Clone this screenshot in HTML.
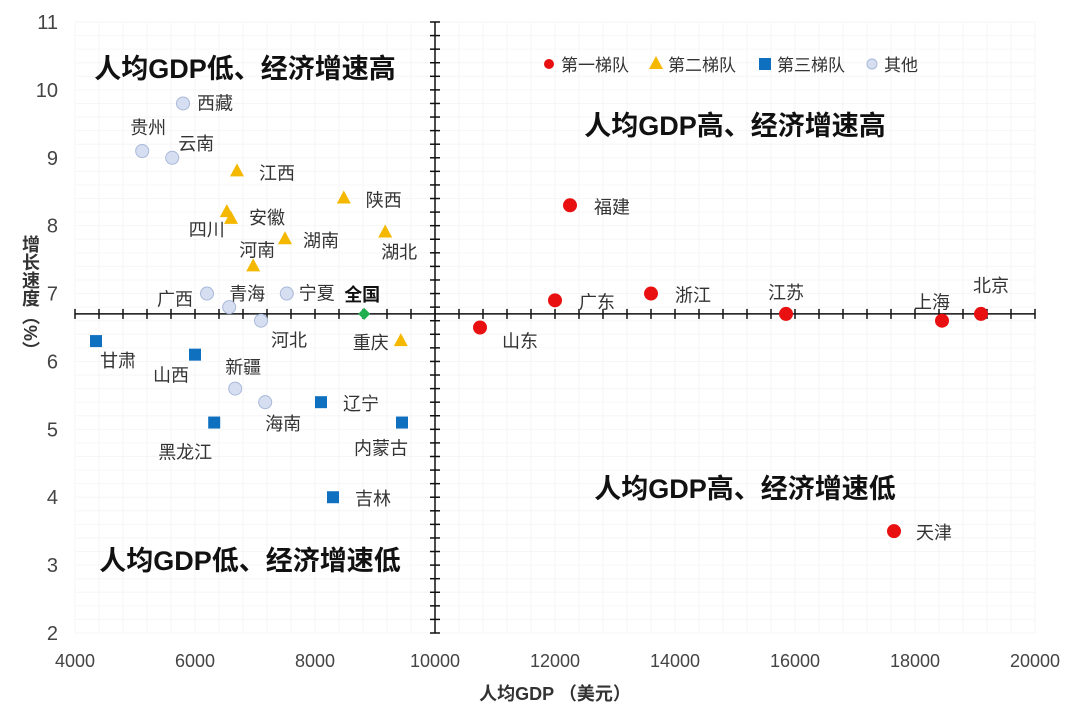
<!DOCTYPE html>
<html><head><meta charset="utf-8"><style>
body{margin:0;background:#fff;}
svg text{font-family:"Liberation Sans","Noto Sans CJK SC",sans-serif;}
</style></head><body>
<svg id="chart" width="1080" height="715" xmlns="http://www.w3.org/2000/svg"></svg>
<script>
const tier1Names=["福建","广东","浙江","江苏","上海","北京","山东","天津"];
const tier1X=[12250,12000,13600,15850,18450,19100,10750,17650];
const tier1Y=[8.3,6.9,7.0,6.7,6.6,6.7,6.5,3.5];
const tier2Names=["江西","陕西","四川","安徽","湖南","湖北","河南","重庆"];
const tier2X=[6700,8480,6530,6600,7500,9170,6970,9430];
const tier2Y=[8.8,8.4,8.2,8.1,7.8,7.9,7.4,6.3];
const tier3Names=["甘肃","山西","辽宁","内蒙古","黑龙江","吉林"];
const tier3X=[4350,6000,8100,9450,6320,8300];
const tier3Y=[6.3,6.1,5.4,5.1,5.1,4.0];
const otherNames=["西藏","贵州","云南","广西","青海","宁夏","河北","新疆","海南"];
const otherX=[5800,5120,5620,6200,6570,7530,7100,6670,7170];
const otherY=[9.8,9.1,9.0,7.0,6.8,7.0,6.6,5.6,5.4];
const nationX=[8820], nationY=[6.7];
const xTicks=[4000,6000,8000,10000,12000,14000,16000,18000,20000];
const yTicks=[2,3,4,5,6,7,8,9,10,11];
const crossX=10000, crossY=6.7;

const NS="http://www.w3.org/2000/svg";
const svg=document.getElementById('chart');
const X0=75,X1=1035,Y0=633,Y1=22;
const sx=v=>X0+(v-4000)/16000*(X1-X0);
const sy=v=>Y0-(v-2)/9*(Y0-Y1);
function el(t,a,p){const e=document.createElementNS(NS,t);for(const k in a)e.setAttribute(k,a[k]);(p||svg).appendChild(e);return e;}
function txt(x,y,s,o){const e=el('text',Object.assign({x:x,y:y,'font-size':18,fill:'#333'},o||{}));e.textContent=s;return e;}
const g=el('g',{});


for(let v=4000;v<=20000;v+=400)el('line',{x1:sx(v),x2:sx(v),y1:Y1,y2:Y0,stroke:'#f6f6f6'},g);
for(let v=2;v<=11.001;v+=0.2)el('line',{x1:X0,x2:X1,y1:sy(v),y2:sy(v),stroke:'#f6f6f6'},g);
xTicks.forEach(v=>{const t=txt(sx(v),667,String(v),{'text-anchor':'middle','font-size':18,fill:'#444'});});
yTicks.forEach(v=>{const t=txt(58,sy(v)+7,String(v),{'text-anchor':'end','font-size':20,fill:'#444'});});
const ax=el('g',{stroke:'#111','stroke-width':1.5});


el('line',{x1:sx(crossX),x2:sx(crossX),y1:Y1,y2:Y0},ax);
el('line',{x1:X0,x2:X1,y1:sy(crossY),y2:sy(crossY)},ax);
for(let v=4000;v<=20000;v+=400)el('line',{x1:sx(v),x2:sx(v),y1:sy(crossY)-5,y2:sy(crossY)+5},ax);
for(let v=2;v<=11.001;v+=0.2)el('line',{x1:sx(crossX)-5,x2:sx(crossX)+5,y1:sy(v),y2:sy(v)},ax);
[["人均GDP低、经济增速高",245,78],["人均GDP高、经济增速高",735,135],["人均GDP高、经济增速低",745,498],["人均GDP低、经济增速低",250,570]].forEach(q=>{const t=txt(q[1],q[2],q[0],{'text-anchor':'middle','font-size':27,'font-weight':'bold',fill:'#111'});});
let t=txt(555,700,"人均GDP （美元）",{'text-anchor':'middle','font-size':18,'font-weight':'bold',fill:'#333'});

t=txt(30,235,"增长速度（%）",{'font-size':18,'font-weight':'bold',fill:'#333',style:'writing-mode:vertical-rl'});

function marker(kind,x,y){
  let m;
  if(kind==1)m=el('circle',{cx:x,cy:y,r:7,fill:'#e81010'});
  else if(kind==2)m=el('polygon',{points:`${x},${y-8} ${x+7},${y+5} ${x-7},${y+5}`,fill:'#f5b800'});
  else if(kind==3)m=el('rect',{x:x-6,y:y-6,width:12,height:12,fill:'#1070c0'});
  else if(kind==4)m=el('circle',{cx:x,cy:y,r:6.5,fill:'#d6dff2',stroke:'#a8b8d8','stroke-width':1});
  else m=el('polygon',{points:`${x},${y-6} ${x+6},${y} ${x},${y+6} ${x-6},${y}`,fill:'#20b050'});
  return m;
}
const lab1=[[24,8],[24,8],[24,8],[-18,-15],[-28,-12],[-8,-22],[22,20],[22,8]];
tier1X.forEach((v,i)=>{const m=marker(1,sx(v),sy(tier1Y[i]));
 const l=txt(sx(v)+lab1[i][0],sy(tier1Y[i])+lab1[i][1],tier1Names[i]);});
const lab2=[[22,8],[22,8],[-38,24],[18,5],[18,8],[-4,26],[-14,-10],[-48,8]];
tier2X.forEach((v,i)=>{const m=marker(2,sx(v),sy(tier2Y[i]));
 const l=txt(sx(v)+lab2[i][0],sy(tier2Y[i])+lab2[i][1],tier2Names[i]);});
const lab3=[[4,26],[-42,27],[22,8],[-48,32],[-56,36],[22,8]];
tier3X.forEach((v,i)=>{const m=marker(3,sx(v),sy(tier3Y[i]));
 const l=txt(sx(v)+lab3[i][0],sy(tier3Y[i])+lab3[i][1],tier3Names[i]);});
const lab4=[[14,6],[-12,-17],[6,-8],[-50,12],[0,-7],[12,6],[10,26],[-10,-15],[0,28]];
otherX.forEach((v,i)=>{const m=marker(4,sx(v),sy(otherY[i]));
 const l=txt(sx(v)+lab4[i][0],sy(otherY[i])+lab4[i][1],otherNames[i]);});
nationX.forEach((v,i)=>{const m=marker(5,sx(v),sy(nationY[i]));
 const l=txt(sx(v)-20,sy(nationY[i])-13,"全国",{'font-weight':'bold',fill:'#111'});});
const leg=[[1,"第一梯队",549],[2,"第二梯队",656],[3,"第三梯队",765],[4,"其他",872]];
leg.forEach(e=>{const m=marker(e[0],e[2],64);
 if(e[0]==1)m.setAttribute('r',5);if(e[0]==4)m.setAttribute('r',5);
 const l=txt(e[2]+12,71,e[1],{'font-size':17});});
</script>
</body></html>
